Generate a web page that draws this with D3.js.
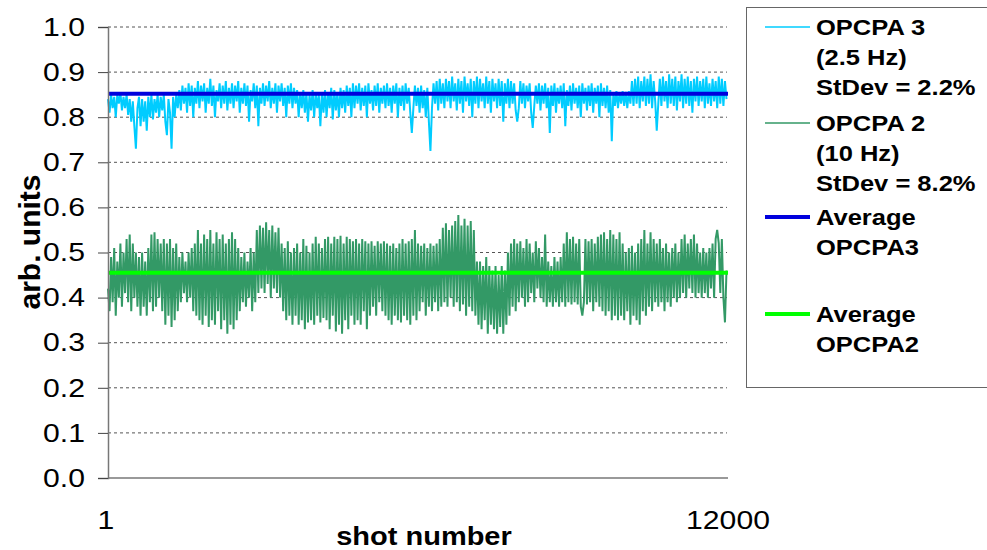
<!DOCTYPE html>
<html>
<head>
<meta charset="utf-8">
<script src="https://cdn.jsdelivr.net/npm/d3@7"></script>
<style>
  html, body { margin: 0; padding: 0; background: #fff; }
  svg { display: block; font-family: Arial, "Liberation Sans", sans-serif; }
</style>
</head>
<body>
<svg id="chart" width="987" height="550"></svg>
<script>
// Shot-to-shot output energy, one sample every 30 shots
const sampleStep = 30;
const shotRange = [1, 12000];
const yTicks = [0.0, 0.1, 0.2, 0.3, 0.4, 0.5, 0.6, 0.7, 0.8, 0.9, 1.0];
const xTickLabels = ["1", "12000"];

// OPCPA 3 (2.5 Hz)
const opcpa3 = [
  0.84,0.81,0.85,0.82,0.845,0.80,0.85,0.83,0.855,0.815,0.845,0.82,0.85,0.805,0.84,0.79,0.835,0.78,0.73,0.82,
  0.845,0.78,0.84,0.79,0.835,0.77,0.845,0.80,0.85,0.795,0.84,0.81,0.85,0.80,0.845,0.815,0.85,0.79,0.76,0.84,
  0.81,0.73,0.845,0.80,0.85,0.82,0.86,0.815,0.87,0.83,0.865,0.81,0.875,0.825,0.87,0.80,0.865,0.83,0.88,0.82,
  0.87,0.835,0.875,0.81,0.865,0.83,0.885,0.825,0.87,0.80,0.86,0.835,0.875,0.82,0.87,0.83,0.88,0.815,0.865,0.83,
  0.875,0.82,0.87,0.835,0.88,0.81,0.865,0.83,0.875,0.825,0.87,0.79,0.86,0.835,0.875,0.82,0.87,0.78,0.865,0.83,
  0.875,0.825,0.87,0.835,0.88,0.82,0.865,0.83,0.875,0.81,0.87,0.835,0.875,0.825,0.865,0.80,0.87,0.83,0.875,0.82,
  0.865,0.83,0.86,0.80,0.855,0.82,0.86,0.81,0.855,0.79,0.85,0.815,0.86,0.80,0.855,0.82,0.85,0.78,0.855,0.81,
  0.86,0.80,0.855,0.82,0.865,0.795,0.86,0.815,0.855,0.80,0.865,0.82,0.86,0.81,0.87,0.825,0.865,0.80,0.875,0.82,
  0.87,0.83,0.875,0.815,0.865,0.825,0.87,0.80,0.875,0.83,0.86,0.815,0.87,0.825,0.875,0.81,0.865,0.83,0.87,0.82,
  0.875,0.825,0.865,0.81,0.87,0.83,0.875,0.80,0.865,0.825,0.87,0.815,0.875,0.83,0.865,0.81,0.765,0.82,0.87,0.825,
  0.865,0.81,0.87,0.82,0.86,0.80,0.865,0.79,0.725,0.82,0.875,0.83,0.88,0.815,0.885,0.83,0.875,0.82,0.885,0.835,
  0.88,0.82,0.89,0.835,0.875,0.815,0.885,0.83,0.88,0.81,0.89,0.835,0.875,0.825,0.885,0.80,0.88,0.83,0.89,0.82,
  0.885,0.835,0.875,0.82,0.89,0.83,0.88,0.81,0.885,0.835,0.875,0.82,0.885,0.825,0.88,0.79,0.875,0.83,0.885,0.82,
  0.88,0.83,0.875,0.815,0.79,0.82,0.88,0.83,0.875,0.82,0.87,0.835,0.875,0.81,0.776,0.825,0.87,0.83,0.875,0.815,
  0.87,0.83,0.875,0.82,0.865,0.765,0.87,0.825,0.875,0.81,0.865,0.83,0.87,0.82,0.875,0.78,0.86,0.825,0.87,0.815,
  0.875,0.83,0.865,0.82,0.87,0.80,0.875,0.83,0.865,0.815,0.87,0.825,0.875,0.81,0.865,0.83,0.87,0.80,0.875,0.825,
  0.865,0.82,0.87,0.81,0.86,0.747,0.855,0.825,0.858,0.82,0.855,0.83,0.858,0.825,0.856,0.82,0.858,0.83,0.88,0.825,
  0.885,0.83,0.89,0.82,0.88,0.835,0.89,0.825,0.885,0.83,0.895,0.82,0.88,0.835,0.77,0.83,0.885,0.825,0.89,0.835,
  0.88,0.82,0.895,0.83,0.885,0.825,0.89,0.815,0.88,0.835,0.895,0.82,0.885,0.83,0.89,0.825,0.88,0.81,0.885,0.835,
  0.89,0.825,0.88,0.835,0.885,0.82,0.89,0.83,0.875,0.825,0.885,0.835,0.88,0.82,0.89,0.83,0.885,0.825,0.88,0.84
];

// OPCPA 2 (10 Hz)
const opcpa2 = [
  0.42,0.37,0.49,0.39,0.51,0.36,0.48,0.40,0.52,0.38,0.50,0.41,0.53,0.39,0.54,0.37,0.52,0.40,0.50,0.38,
  0.49,0.36,0.50,0.38,0.48,0.36,0.51,0.39,0.54,0.37,0.545,0.38,0.53,0.40,0.52,0.37,0.53,0.34,0.52,0.36,
  0.53,0.335,0.51,0.35,0.52,0.37,0.49,0.39,0.50,0.41,0.48,0.39,0.50,0.40,0.51,0.37,0.52,0.36,0.55,0.35,
  0.52,0.34,0.54,0.36,0.53,0.335,0.55,0.35,0.52,0.34,0.545,0.37,0.53,0.33,0.54,0.35,0.52,0.32,0.53,0.34,
  0.545,0.33,0.53,0.35,0.51,0.37,0.49,0.39,0.50,0.38,0.48,0.40,0.51,0.37,0.50,0.39,0.55,0.41,0.56,0.42,
  0.555,0.41,0.567,0.43,0.55,0.40,0.56,0.42,0.545,0.41,0.555,0.40,0.52,0.37,0.51,0.35,0.525,0.36,0.50,0.34,
  0.51,0.36,0.52,0.34,0.50,0.35,0.53,0.33,0.515,0.345,0.50,0.35,0.52,0.34,0.535,0.36,0.52,0.345,0.51,0.355,
  0.53,0.35,0.535,0.33,0.52,0.36,0.535,0.325,0.53,0.34,0.537,0.32,0.52,0.35,0.535,0.33,0.53,0.36,0.525,0.34,
  0.53,0.35,0.52,0.34,0.53,0.37,0.525,0.33,0.52,0.36,0.525,0.38,0.515,0.36,0.525,0.39,0.52,0.37,0.525,0.36,
  0.52,0.35,0.515,0.34,0.52,0.36,0.51,0.35,0.52,0.345,0.53,0.36,0.52,0.35,0.525,0.34,0.53,0.36,0.55,0.35,
  0.52,0.37,0.515,0.39,0.52,0.36,0.51,0.38,0.52,0.37,0.515,0.39,0.52,0.37,0.53,0.38,0.555,0.39,0.565,0.38,
  0.55,0.40,0.56,0.38,0.57,0.39,0.583,0.37,0.56,0.385,0.575,0.36,0.56,0.38,0.57,0.37,0.55,0.36,0.48,0.34,
  0.48,0.33,0.47,0.35,0.49,0.32,0.47,0.34,0.46,0.33,0.47,0.32,0.45,0.335,0.47,0.32,0.46,0.34,0.50,0.36,
  0.52,0.38,0.53,0.37,0.52,0.39,0.525,0.40,0.51,0.38,0.53,0.39,0.52,0.41,0.50,0.39,0.525,0.42,0.51,0.40,
  0.49,0.39,0.54,0.38,0.48,0.39,0.47,0.38,0.49,0.39,0.48,0.38,0.49,0.39,0.52,0.38,0.545,0.39,0.53,0.385,
  0.535,0.39,0.52,0.385,0.53,0.38,0.36,0.39,0.53,0.385,0.525,0.39,0.53,0.37,0.52,0.39,0.535,0.38,0.54,0.37,
  0.545,0.36,0.53,0.37,0.55,0.35,0.54,0.36,0.53,0.35,0.545,0.36,0.52,0.35,0.50,0.37,0.51,0.34,0.515,0.36,
  0.50,0.35,0.52,0.34,0.53,0.37,0.55,0.36,0.52,0.38,0.545,0.37,0.53,0.39,0.52,0.38,0.53,0.39,0.51,0.37,
  0.52,0.39,0.50,0.38,0.51,0.40,0.52,0.39,0.50,0.40,0.53,0.41,0.54,0.40,0.52,0.42,0.53,0.41,0.54,0.40,
  0.52,0.41,0.50,0.40,0.51,0.41,0.50,0.40,0.51,0.42,0.52,0.40,0.53,0.55,0.52,0.41,0.53,0.40,0.345,0.46
];

// Run averages
const averageOpcpa3 = [0.852];
const averageOpcpa2 = [0.455];

const legendItems = [
  { lines: ["OPCPA 3", "(2.5 Hz)", "StDev = 2.2%"], color: "#00ccff", width: 1.5 },
  { lines: ["OPCPA 2", "(10 Hz)", "StDev = 8.2%"], color: "#339966", width: 1.5 },
  { lines: ["Average", "OPCPA3"], color: "#0000dd", width: 4 },
  { lines: ["Average", "OPCPA2"], color: "#00ff00", width: 4 }
];

const svg = d3.select("#chart");
const plot = { left: 108, right: 728, top: 27, bottom: 478 };
const stretch = 1.16;

const x = d3.scaleLinear().domain(shotRange).range([plot.left, plot.right]);
const y = d3.scaleLinear().domain([0, 1]).range([plot.bottom, plot.top]);

function label(g, text, px, py, opts) {
  const o = Object.assign({ size: 24, weight: "normal", anchor: "start" }, opts || {});
  return g.append("text")
    .attr("transform", `translate(${px},${py}) scale(${stretch},1)`)
    .attr("text-anchor", o.anchor)
    .attr("dominant-baseline", "central")
    .attr("font-size", o.size)
    .attr("font-weight", o.weight)
    .attr("fill", "#000")
    .text(text);
}

// Dashed horizontal gridlines
svg.append("g")
  .selectAll("line")
  .data(yTicks.filter(d => d > 0))
  .join("line")
  .attr("x1", plot.left).attr("x2", plot.right - 1)
  .attr("y1", d => y(d)).attr("y2", d => y(d))
  .attr("stroke", "#555")
  .attr("stroke-width", 1)
  .attr("stroke-dasharray", "3,3");

// Series
const seriesLine = d3.line()
  .x((d, i) => x(shotRange[0] + i * sampleStep))
  .y(d => y(d));

svg.append("path")
  .datum(opcpa3)
  .attr("d", seriesLine)
  .attr("fill", "none")
  .attr("stroke", "#00ccff")
  .attr("stroke-width", 2)
  .attr("stroke-linejoin", "bevel");

svg.append("path")
  .datum(opcpa2)
  .attr("d", seriesLine)
  .attr("fill", "none")
  .attr("stroke", "#339966")
  .attr("stroke-width", 2)
  .attr("stroke-linejoin", "bevel");

// Average lines
[[averageOpcpa3, "#0000dd"], [averageOpcpa2, "#00ff00"]].forEach(([avg, color]) => {
  svg.append("line")
    .attr("x1", x(shotRange[0])).attr("x2", x(shotRange[1]))
    .attr("y1", y(avg[0])).attr("y2", y(avg[0]))
    .attr("stroke", color)
    .attr("stroke-width", 4);
});

// Y axis
const yAxis = svg.append("g")
  .attr("transform", `translate(${plot.left},0)`)
  .call(d3.axisLeft(y).tickValues(yTicks).tickSize(10).tickFormat(""));
yAxis.select(".domain").attr("stroke", "#777").attr("stroke-width", 1.5);
yAxis.selectAll(".tick line").attr("stroke", "#444").attr("stroke-width", 1);
yTicks.forEach(t => label(svg, d3.format(".1f")(t), 85, y(t), { anchor: "end", size: 26 }));

// X axis baseline
svg.append("line")
  .attr("x1", plot.left).attr("x2", plot.right)
  .attr("y1", plot.bottom).attr("y2", plot.bottom)
  .attr("stroke", "#777").attr("stroke-width", 1.5);
label(svg, xTickLabels[0], x(shotRange[0]) - 2, 520, { anchor: "middle", size: 26 });
label(svg, xTickLabels[1], x(shotRange[1]), 520, { anchor: "middle", size: 26 });

// Axis titles
label(svg, "shot number", 424, 536, { anchor: "middle", size: 25, weight: "bold" });
svg.append("text")
  .attr("transform", "translate(29,242) rotate(-90)")
  .attr("text-anchor", "middle")
  .attr("dominant-baseline", "central")
  .attr("font-size", 30)
  .attr("font-weight", "bold")
  .text("arb. units");

// Legend
const legend = svg.append("g");
legend.append("rect")
  .attr("x", 746.5).attr("y", 7.5)
  .attr("width", 260).attr("height", 380)
  .attr("fill", "#fff")
  .attr("stroke", "#666")
  .attr("stroke-width", 1);

const itemTops = [27, 123, 217, 314];
legendItems.forEach((item, k) => {
  const cy = itemTops[k];
  legend.append("line")
    .attr("x1", 765).attr("x2", 810)
    .attr("y1", cy).attr("y2", cy)
    .attr("stroke", item.color)
    .attr("stroke-width", item.width);
  item.lines.forEach((t, j) => label(legend, t, 816, cy + j * 30, { size: 22, weight: "bold" }));
});
</script>
</body>
</html>
